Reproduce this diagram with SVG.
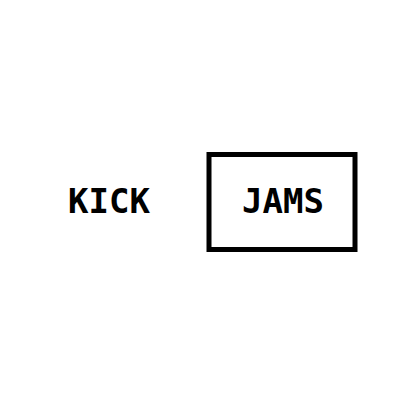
<svg xmlns="http://www.w3.org/2000/svg" width="400" height="400" viewBox="0 0 400 400">
<style>
text{font-family:"DejaVu Sans Mono",monospace;font-weight:bold;font-size:34px;fill:#000;text-anchor:middle}
.box{fill:#fff;stroke:#000;stroke-width:5}
</style>
<rect width="400" height="400" fill="#fff"/>
<g id="kick"><text x="109" y="213">KICK</text></g>
<g id="jams"><rect class="box" x="209" y="154.5" width="146" height="95"/><text x="283" y="213">JAMS</text></g>
<g id="connectors"></g>
</svg>
